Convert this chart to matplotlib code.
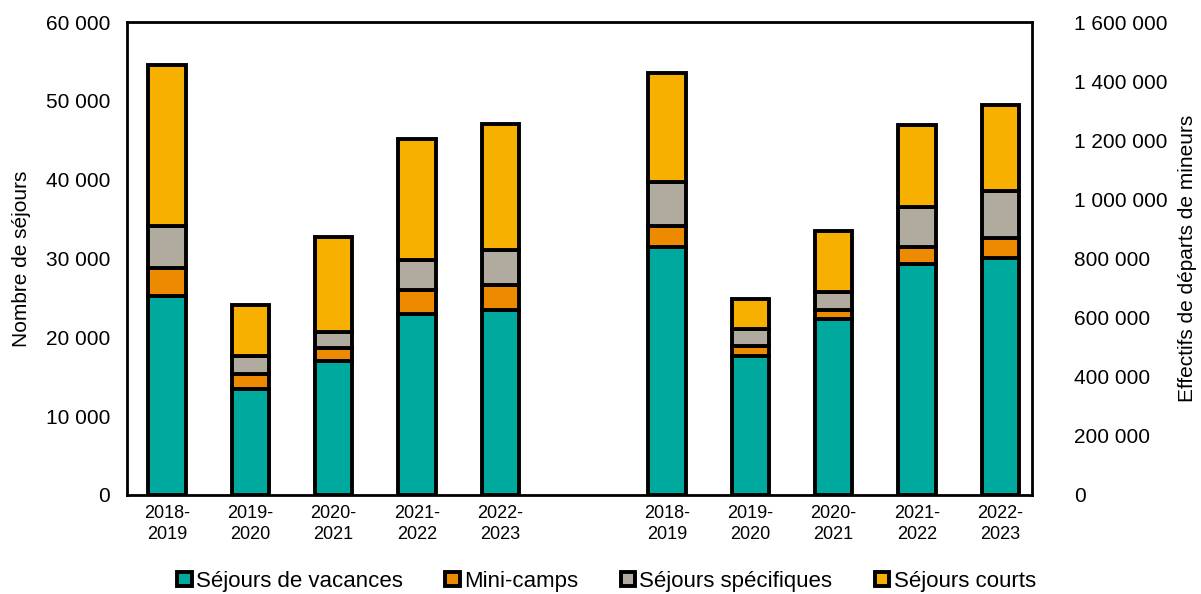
import numpy as np
import matplotlib.pyplot as plt
from matplotlib.ticker import FuncFormatter

plt.rcParams['font.family'] = ['Liberation Sans', 'DejaVu Sans']

annees = ["2018-\n2019", "2019-\n2020", "2020-\n2021", "2021-\n2022", "2022-\n2023"]
series = ["Séjours de vacances", "Mini-camps", "Séjours spécifiques", "Séjours courts"]
couleurs = ["#00A99D", "#EC8A00", "#B1AA9F", "#F8B000"]

# nombre de séjours (axe gauche)
sejours_vacances = [25300, 13500, 17000, 22950, 23450]
sejours_minicamps = [3500, 1800, 1700, 3050, 3150]
sejours_specifiques = [5300, 2300, 2000, 3800, 4450]
sejours_courts = [20450, 6500, 12050, 15300, 15950]

# effectifs de départs de mineurs (axe droit)
eff_vacances = [838000, 470000, 596000, 781000, 801000]
eff_minicamps = [72000, 34000, 30000, 59000, 70000]
eff_specifiques = [148000, 57000, 62000, 133000, 159000]
eff_courts = [371000, 102000, 204000, 278000, 290000]

x_gauche = np.arange(5)
x_droite = np.arange(5) + 6

fig = plt.figure(figsize=(12.01, 5.94), dpi=100)
ax = fig.add_axes([127/1201, 99/594, (1032-127)/1201, (495-22)/594])
ax2 = ax.twinx()

largeur = 0.45
edge = dict(edgecolor="black", linewidth=2.8)

bas = np.zeros(5)
for vals, c, nom in zip([sejours_vacances, sejours_minicamps, sejours_specifiques, sejours_courts], couleurs, series):
    ax.bar(x_gauche, vals, largeur, bottom=bas, color=c, label=nom, **edge)
    bas += np.array(vals)

bas = np.zeros(5)
for vals, c in zip([eff_vacances, eff_minicamps, eff_specifiques, eff_courts], couleurs):
    ax2.bar(x_droite, vals, largeur, bottom=bas, color=c, **edge)
    bas += np.array(vals)

fmt = FuncFormatter(lambda v, p: f"{int(v):,}".replace(",", " "))
ax.set_ylim(0, 60000)
ax.set_yticks(np.arange(0, 60001, 10000))
ax.yaxis.set_major_formatter(fmt)
ax2.set_ylim(0, 1600000)
ax2.set_yticks(np.arange(0, 1600001, 200000))
ax2.yaxis.set_major_formatter(fmt)

ax.set_xlim(-0.48, 10.38)
ax.set_xticks(list(x_gauche) + list(x_droite))
ax.set_xticklabels(annees + annees, fontsize=13, linespacing=1.3)

ax.tick_params(axis="y", length=0, labelsize=15, pad=12)
ax2.tick_params(axis="y", length=0, labelsize=15, pad=30)
ax.tick_params(axis="x", length=0, pad=7)

for sp in ax2.spines.values():
    sp.set_linewidth(2)
ax.spines["bottom"].set_color("#555555")

ax.set_ylabel("Nombre de séjours", fontsize=15, labelpad=11)
ax2.set_ylabel("Effectifs de départs de mineurs", fontsize=15, labelpad=8)

fig.legend(loc="lower center", bbox_to_anchor=(0.505, -0.03), ncol=4, frameon=False,
           fontsize=16, handlelength=0.65, handleheight=0.65, handletextpad=0.2,
           columnspacing=1.9)

fig.savefig("out.png", dpi=100)
